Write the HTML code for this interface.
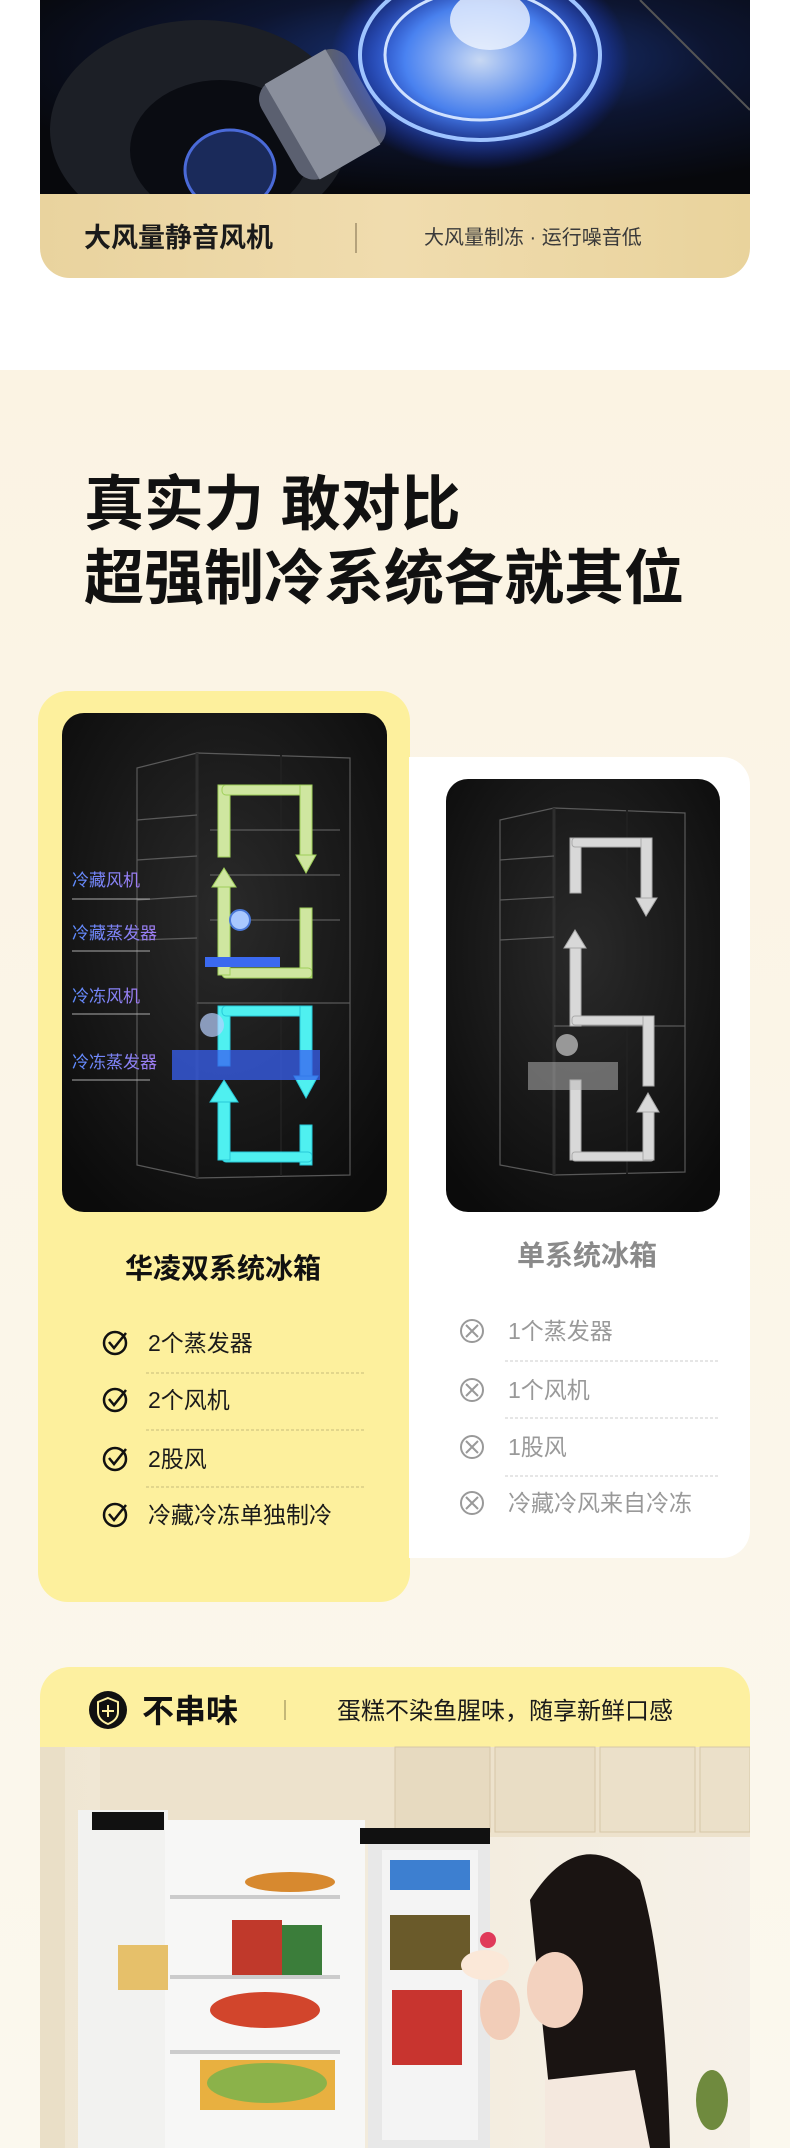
<!DOCTYPE html>
<html><head><meta charset="utf-8"><style>
html,body{margin:0;padding:0;background:#fff;}
svg{display:block}
text{font-family:"Liberation Sans","Noto Sans CJK SC",sans-serif;}
</style></head><body>
<svg width="790" height="2148" viewBox="0 0 790 2148" xmlns="http://www.w3.org/2000/svg">
<defs>
<linearGradient id="cream" x1="0" y1="0" x2="0" y2="1"><stop offset="0" stop-color="#fbf3e3"/><stop offset="1" stop-color="#fbf8ee"/></linearGradient>
<radialGradient id="fanbg" cx="0.6" cy="0.3" r="0.7"><stop offset="0" stop-color="#1b3a8a"/><stop offset="0.5" stop-color="#0d1530"/><stop offset="1" stop-color="#07080c"/></radialGradient>
<radialGradient id="glow" cx="0.5" cy="0.5" r="0.5"><stop offset="0" stop-color="#dbeaff"/><stop offset="0.5" stop-color="#4f8bff"/><stop offset="1" stop-color="#1b3cff" stop-opacity="0"/></radialGradient>
<linearGradient id="band" x1="0" y1="0" x2="1" y2="0"><stop offset="0" stop-color="#e9d39e"/><stop offset="0.5" stop-color="#f0dcae"/><stop offset="1" stop-color="#e9d39c"/></linearGradient>
<radialGradient id="dark" cx="0.5" cy="0.4" r="0.7"><stop offset="0" stop-color="#2a2a2a"/><stop offset="1" stop-color="#0b0b0b"/></radialGradient>
<linearGradient id="lbl" x1="0" y1="0" x2="1" y2="0"><stop offset="0" stop-color="#5d8cff"/><stop offset="1" stop-color="#a07cf0"/></linearGradient>
<linearGradient id="room" x1="0" y1="0" x2="1" y2="0"><stop offset="0" stop-color="#efe6d2"/><stop offset="1" stop-color="#f6f1e8"/></linearGradient>
<clipPath id="c1"><rect x="40" y="-40" width="710" height="318" rx="30"/></clipPath>
<clipPath id="c2"><rect x="40" y="1667" width="710" height="520" rx="30"/></clipPath>
</defs>

<g clip-path="url(#c1)">
<rect x="40" y="0" width="710" height="194" fill="url(#fanbg)"/>
<ellipse cx="200" cy="130" rx="150" ry="110" fill="#1c1f26"/>
<ellipse cx="220" cy="150" rx="90" ry="70" fill="#0a0c12"/>
<ellipse cx="230" cy="170" rx="45" ry="40" fill="#1a2a5a" stroke="#4a6ad8" stroke-width="3"/>
<g transform="rotate(-30 320 110)"><rect x="270" y="60" width="100" height="110" rx="20" fill="#5b6070"/><rect x="285" y="60" width="70" height="110" fill="#8a8f9c"/></g>
<ellipse cx="480" cy="60" rx="150" ry="110" fill="url(#glow)" opacity="0.9"/>
<ellipse cx="480" cy="55" rx="120" ry="85" fill="none" stroke="#9fc4ff" stroke-width="4"/>
<ellipse cx="480" cy="55" rx="95" ry="65" fill="none" stroke="#cfe1ff" stroke-width="3"/>
<ellipse cx="490" cy="20" rx="40" ry="30" fill="#eef4ff" opacity="0.8"/>
<line x1="640" y1="0" x2="750" y2="110" stroke="#555" stroke-width="2"/>
<rect x="40" y="194" width="710" height="84" fill="url(#band)"/>
</g>
<text x="84" y="247" font-size="27" font-weight="bold" fill="#1a1a1a">大风量静音风机</text>
<line x1="356" y1="223" x2="356" y2="253" stroke="#7a6a4a" stroke-width="1"/>
<text x="424" y="244" font-size="20" fill="#3a3a3a">大风量制冻 · 运行噪音低</text>

<rect x="0" y="370" width="790" height="1778" fill="url(#cream)"/>
<text x="84" y="525" font-size="60" font-weight="bold" fill="#111">真实力 敢对比</text>
<text x="84" y="599" font-size="60" font-weight="bold" fill="#111">超强制冷系统各就其位</text>

<rect x="38" y="691" width="372" height="911" rx="30" fill="#fdf09d"/>
<rect x="62" y="713" width="325" height="499" rx="22" fill="url(#dark)"/>
<g stroke="#6a6a6a" stroke-width="1.2" fill="none" opacity="0.8">
<path d="M137 768 L197 753 L350 758 L350 1175 L197 1178 L137 1165 Z"/>
<line x1="197" y1="753" x2="197" y2="1178" stroke="#333" stroke-width="3"/>
<line x1="281" y1="755" x2="281" y2="1176" stroke="#222" stroke-width="2"/>
<line x1="197" y1="1003" x2="350" y2="1003"/>
<line x1="137" y1="820" x2="197" y2="815"/><line x1="137" y1="860" x2="197" y2="856"/><line x1="137" y1="900" x2="197" y2="896"/><line x1="137" y1="940" x2="197" y2="938"/>
<line x1="210" y1="830" x2="340" y2="830"/><line x1="210" y1="875" x2="340" y2="875"/><line x1="210" y1="920" x2="340" y2="920"/>
</g>
<g fill="#cfe6a0" stroke="#9fcf5a" stroke-width="1">
<rect x="218" y="785" width="12" height="72"/><rect x="222" y="785" width="88" height="10" rx="4"/><rect x="300" y="785" width="12" height="70"/>
<path d="M296 855 L316 855 L306 873 Z"/>
<rect x="300" y="908" width="12" height="70"/><rect x="222" y="968" width="90" height="10" rx="4"/>
<rect x="218" y="885" width="12" height="90"/><path d="M212 887 L224 868 L236 887 Z"/>
</g>
<circle cx="240" cy="920" r="10" fill="#a9c8ff" stroke="#4a78d8" stroke-width="2"/>
<rect x="205" y="957" width="75" height="10" fill="#3b6af0"/>
<g fill="#4ff0f0" stroke="#27c8d8" stroke-width="1">
<rect x="218" y="1006" width="12" height="60"/><rect x="222" y="1006" width="88" height="10" rx="4"/><rect x="300" y="1006" width="12" height="70"/>
<path d="M294 1076 L318 1076 L306 1098 Z"/>
<rect x="300" y="1125" width="12" height="40"/><rect x="222" y="1152" width="90" height="10" rx="4"/>
<rect x="218" y="1100" width="12" height="60"/><path d="M210 1102 L224 1080 L238 1102 Z"/>
</g>
<rect x="172" y="1050" width="148" height="30" fill="#3860f0" opacity="0.75"/>
<circle cx="212" cy="1025" r="12" fill="#b8d0ff" opacity="0.7"/>
<g stroke="#aaa" stroke-width="1" fill="none">
<line x1="72" y1="899" x2="150" y2="899"/><line x1="72" y1="951" x2="150" y2="951"/><line x1="72" y1="1014" x2="150" y2="1014"/><line x1="72" y1="1080" x2="150" y2="1080"/>
</g>
<g font-size="17" fill="url(#lbl)">
<text x="72" y="886">冷藏风机</text><text x="72" y="939">冷藏蒸发器</text><text x="72" y="1002">冷冻风机</text><text x="72" y="1068">冷冻蒸发器</text>
</g>
<text x="223" y="1278" font-size="28" font-weight="bold" fill="#111" text-anchor="middle">华凌双系统冰箱</text>
<g stroke="#111" stroke-width="2.5" fill="none">
<circle cx="115" cy="1343" r="11"/><path d="M109 1342 L114 1348 L126 1333"/>
<circle cx="115" cy="1400" r="11"/><path d="M109 1399 L114 1405 L126 1390"/>
<circle cx="115" cy="1459" r="11"/><path d="M109 1458 L114 1464 L126 1449"/>
<circle cx="115" cy="1515" r="11"/><path d="M109 1514 L114 1520 L126 1505"/>
</g>
<g stroke="#c8bd7a" stroke-width="1" stroke-dasharray="3 2"><line x1="146" y1="1373" x2="365" y2="1373"/><line x1="146" y1="1430" x2="365" y2="1430"/><line x1="146" y1="1487" x2="365" y2="1487"/></g>
<g font-size="23" fill="#1a1a1a">
<text x="148" y="1351">2个蒸发器</text><text x="148" y="1408">2个风机</text><text x="148" y="1467">2股风</text><text x="148" y="1523">冷藏冷冻单独制冷</text>
</g>

<rect x="409" y="757" width="341" height="801" rx="28" fill="#fff"/>
<rect x="409" y="757" width="30" height="801" fill="#fff"/>
<rect x="446" y="779" width="274" height="433" rx="22" fill="url(#dark)"/>
<g stroke="#6a6a6a" stroke-width="1.2" fill="none" opacity="0.8">
<path d="M500 820 L554 808 L685 813 L685 1172 L554 1175 L500 1165 Z"/>
<line x1="554" y1="808" x2="554" y2="1175" stroke="#333" stroke-width="3"/>
<line x1="627" y1="810" x2="627" y2="1174" stroke="#222" stroke-width="2"/>
<line x1="554" y1="1026" x2="685" y2="1026"/>
<line x1="500" y1="860" x2="554" y2="856"/><line x1="500" y1="900" x2="554" y2="897"/><line x1="500" y1="940" x2="554" y2="937"/>
</g>
<g fill="#d8d8d8" stroke="#aaa" stroke-width="1">
<rect x="570" y="838" width="11" height="55"/><rect x="572" y="838" width="80" height="9" rx="3"/><rect x="641" y="838" width="11" height="60"/>
<path d="M636 898 L657 898 L646 916 Z"/>
<rect x="570" y="946" width="11" height="80"/><path d="M564 948 L575 930 L586 948 Z"/>
<rect x="572" y="1016" width="82" height="9" rx="3"/><rect x="643" y="1016" width="11" height="70"/>
<rect x="570" y="1080" width="11" height="80"/><rect x="572" y="1152" width="82" height="9" rx="3"/>
<rect x="643" y="1110" width="11" height="50"/><path d="M637 1112 L648 1093 L659 1112 Z"/>
</g>
<rect x="528" y="1062" width="90" height="28" fill="#bbb" opacity="0.5"/>
<circle cx="567" cy="1045" r="11" fill="#ccc" opacity="0.7"/>
<text x="587" y="1265" font-size="28" font-weight="bold" fill="#8a8a8a" text-anchor="middle">单系统冰箱</text>
<g stroke="#999" stroke-width="2" fill="none">
<circle cx="472" cy="1331" r="11"/><path d="M466 1325 L478 1337 M478 1325 L466 1337"/>
<circle cx="472" cy="1390" r="11"/><path d="M466 1384 L478 1396 M478 1384 L466 1396"/>
<circle cx="472" cy="1447" r="11"/><path d="M466 1441 L478 1453 M478 1441 L466 1453"/>
<circle cx="472" cy="1503" r="11"/><path d="M466 1497 L478 1509 M478 1497 L466 1509"/>
</g>
<g stroke="#ccc" stroke-width="1" stroke-dasharray="3 2"><line x1="505" y1="1361" x2="720" y2="1361"/><line x1="505" y1="1418" x2="720" y2="1418"/><line x1="505" y1="1476" x2="720" y2="1476"/></g>
<g font-size="23" fill="#999">
<text x="508" y="1339">1个蒸发器</text><text x="508" y="1398">1个风机</text><text x="508" y="1455">1股风</text><text x="508" y="1511">冷藏冷风来自冷冻</text>
</g>

<g clip-path="url(#c2)">
<rect x="40" y="1667" width="710" height="80" fill="#fdf0a0"/>
<rect x="40" y="1747" width="710" height="401" fill="url(#room)"/>
<rect x="100" y="1747" width="650" height="90" fill="#ede2cc"/>
<rect x="395" y="1747" width="95" height="85" fill="#e7dac0" stroke="#d6c7a8"/>
<rect x="495" y="1747" width="100" height="85" fill="#e9ddc5" stroke="#d6c7a8"/>
<rect x="600" y="1747" width="95" height="85" fill="#ebe0c9" stroke="#d6c7a8"/>
<rect x="700" y="1747" width="50" height="85" fill="#ebe0c9" stroke="#d6c7a8"/>
<rect x="40" y="1747" width="25" height="401" fill="#eadfc7"/>
<rect x="78" y="1810" width="90" height="338" fill="#f2f2f0"/>
<rect x="92" y="1812" width="72" height="18" fill="#111"/>
<rect x="165" y="1820" width="200" height="328" fill="#f7f7f6"/>
<rect x="368" y="1830" width="122" height="318" fill="#e8e8e8"/>
<rect x="360" y="1828" width="130" height="16" fill="#111"/>
<rect x="382" y="1850" width="96" height="290" fill="#f4f4f4"/>
<rect x="170" y="1895" width="170" height="4" fill="#ccc"/><rect x="170" y="1975" width="170" height="4" fill="#ccc"/><rect x="170" y="2050" width="170" height="4" fill="#ccc"/>
<ellipse cx="290" cy="1882" rx="45" ry="10" fill="#d7892f"/>
<rect x="232" y="1920" width="50" height="55" fill="#c0392b"/><rect x="282" y="1925" width="40" height="50" fill="#3b7d3a"/>
<rect x="118" y="1945" width="50" height="45" fill="#e6c06a"/>
<ellipse cx="265" cy="2010" rx="55" ry="18" fill="#d2452c"/>
<rect x="200" y="2060" width="135" height="50" fill="#e8b040"/>
<ellipse cx="267" cy="2083" rx="60" ry="20" fill="#8bb24a"/>
<rect x="390" y="1860" width="80" height="30" fill="#3d7fd0"/>
<rect x="390" y="1915" width="80" height="55" fill="#6a5a2a"/>
<rect x="392" y="1990" width="70" height="75" fill="#c8342f"/>
<path d="M530 1900 Q580 1820 640 1880 Q665 1960 670 2148 L555 2148 Z" fill="#1a1412"/>
<ellipse cx="555" cy="1990" rx="28" ry="38" fill="#f3d2bf"/>
<path d="M545 2080 L635 2070 L650 2148 L545 2148 Z" fill="#f4e8de"/>
<ellipse cx="485" cy="1965" rx="24" ry="15" fill="#fbe8d8"/><circle cx="488" cy="1940" r="8" fill="#e03a5a"/>
<ellipse cx="500" cy="2010" rx="20" ry="30" fill="#f2cdb8"/>
<ellipse cx="712" cy="2100" rx="16" ry="30" fill="#6f8a3e"/>
</g>
<circle cx="108" cy="1710" r="19" fill="#111"/>
<path d="M108 1698 L118 1702 L118 1712 Q118 1720 108 1724 Q98 1720 98 1712 L98 1702 Z" fill="none" stroke="#fdf0a0" stroke-width="2"/>
<path d="M108 1705 L108 1717 M102 1711 L114 1711" stroke="#fdf0a0" stroke-width="2"/>
<text x="142" y="1722" font-size="32" font-weight="bold" fill="#111">不串味</text>
<line x1="285" y1="1700" x2="285" y2="1720" stroke="#8a7f50" stroke-width="1"/>
<text x="337" y="1719" font-size="24" fill="#1a1a1a">蛋糕不染鱼腥味，随享新鲜口感</text>
</svg>
</body></html>
